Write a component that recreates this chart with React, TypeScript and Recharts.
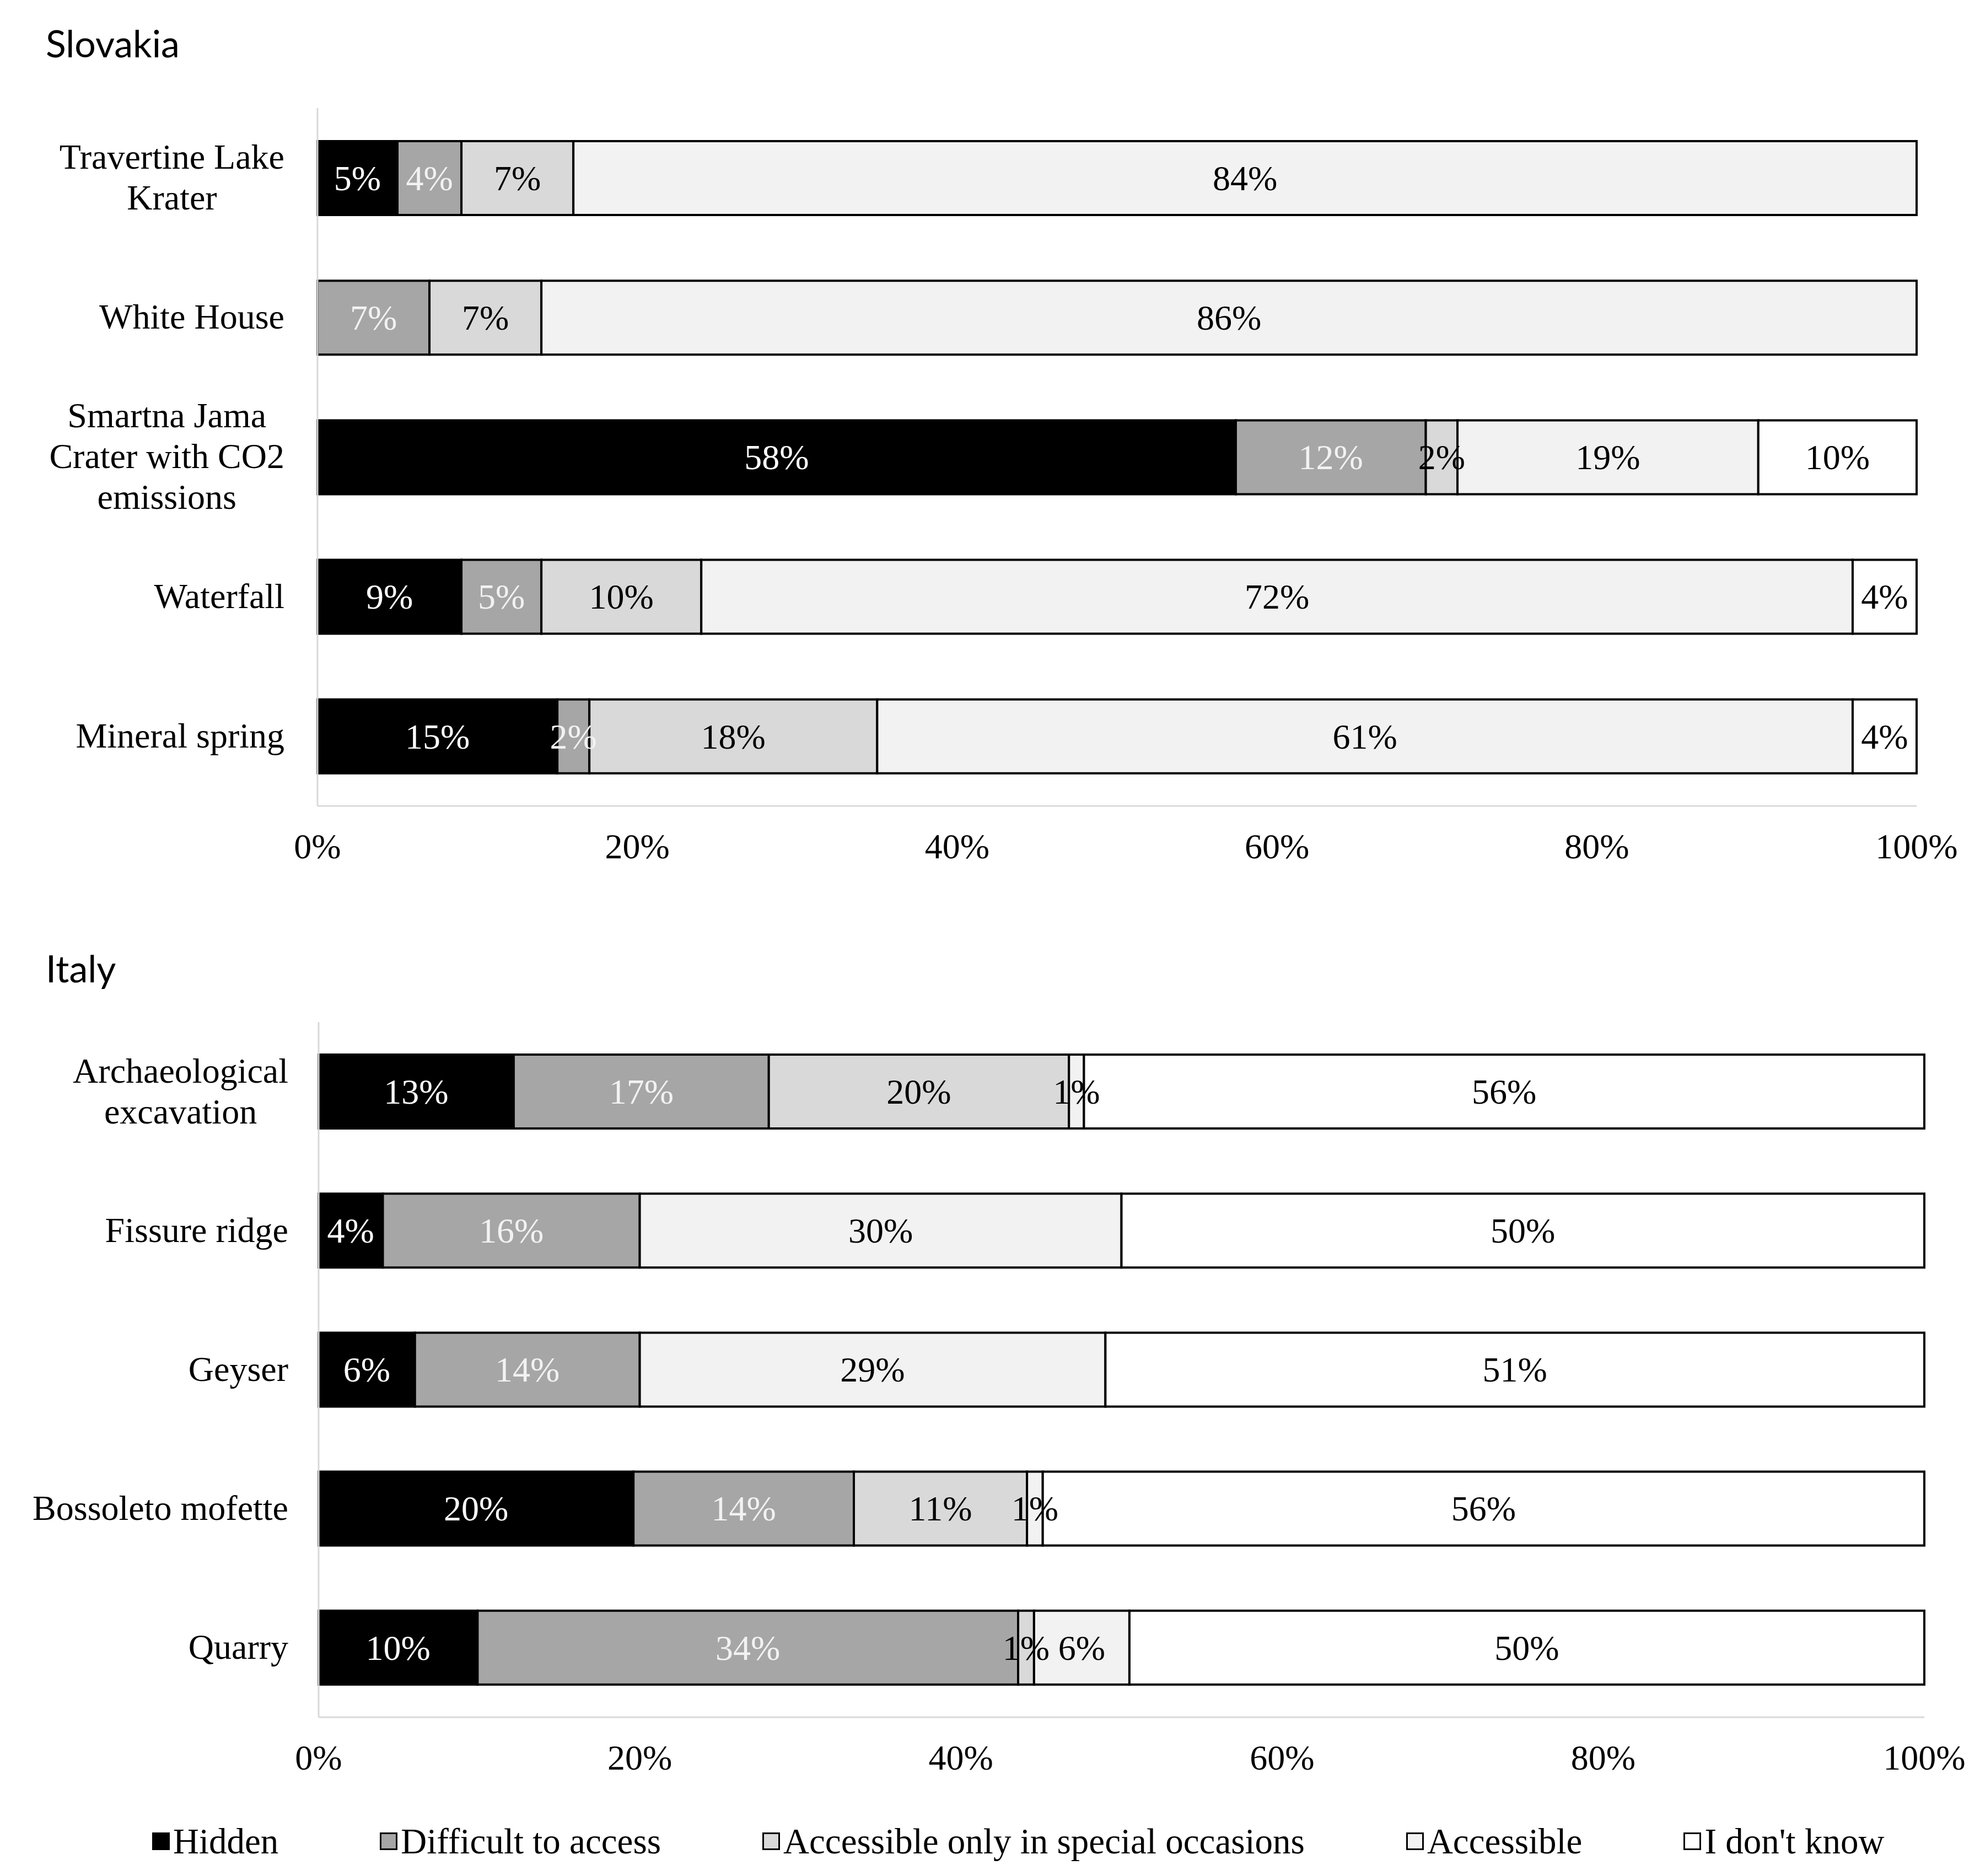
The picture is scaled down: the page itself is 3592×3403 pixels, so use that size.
import React from 'react';
import { BarChart, Bar, XAxis, YAxis, LabelList } from 'recharts';

// ---------- data ----------
const seriesNames = ['Hidden', 'Difficult to access', 'Accessible only in special occasions', 'Accessible', "I don't know"];
const seriesKeys = ['hidden', 'difficult', 'special', 'accessible', 'dontKnow'];
const seriesColors = ['#000000', '#a6a6a6', '#d9d9d9', '#f2f2f2', '#ffffff'];
const labelColors = ['#ffffff', '#f2f2f2', '#000000', '#000000', '#000000'];

const slovakiaCategories = ['Travertine Lake\nKrater', 'White House', 'Smartna Jama\nCrater with CO2\nemissions', 'Waterfall', 'Mineral spring'];
const slovakiaHidden = [5, null, 58, 9, 15];
const slovakiaDifficult = [4, 7, 12, 5, 2];
const slovakiaSpecial = [7, 7, 2, 10, 18];
const slovakiaAccessible = [84, 86, 19, 72, 61];
const slovakiaDontKnow = [null, null, 10, 4, 4];

const italyCategories = ['Archaeological\nexcavation', 'Fissure ridge', 'Geyser', 'Bossoleto mofette', 'Quarry'];
const italyHidden = [13, 4, 6, 20, 10];
const italyDifficult = [17, 16, 14, 14, 34];
const italySpecial = [20, 0, 0, 11, 1];
const italyAccessible = [1, 30, 29, 1, 6];
const italyDontKnow = [56, 50, 51, 56, 50];

const xTicks = [0, 0.2, 0.4, 0.6, 0.8, 1];

// ---------- styling ----------
const SERIF = "'Liberation Serif', 'Times New Roman', serif";
const FS = 64;

let measureCtx: any = null;
function textWidth(t: string) {
  if (!measureCtx && typeof document !== 'undefined') {
    measureCtx = document.createElement('canvas').getContext('2d');
  }
  if (!measureCtx) return t.length * FS * 0.45;
  measureCtx.font = `${FS}px 'Liberation Serif'`;
  return measureCtx.measureText(t).width;
}

const CategoryTick = (props: any) => {
  const { x, y, payload } = props;
  const lines = String(payload.value).split('\n');
  const maxW = Math.max(...lines.map((l) => textWidth(l)));
  const cx = x - maxW / 2;
  const lh = 74;
  const startY = y - ((lines.length - 1) * lh) / 2;
  return (
    <g>
      {lines.map((l, i) => (
        <text
          key={i}
          x={cx}
          y={startY + i * lh}
          dy="0.32em"
          textAnchor="middle"
          fontFamily={SERIF}
          fontSize={FS}
          fill="#000"
        >
          {l}
        </text>
      ))}
    </g>
  );
};

const makeLabel = (color: string) => (props: any) => {
  const { value } = props;
  if (value === null || value === undefined) return null;
  const vb = props.viewBox || {};
  const x = vb.x ?? props.x;
  const y = vb.y ?? props.y;
  const w = vb.width ?? props.width ?? 0;
  const h = vb.height ?? props.height ?? 0;
  return (
    <text
      x={x + w / 2}
      y={y + h / 2}
      dy="0.34em"
      textAnchor="middle"
      fontFamily={SERIF}
      fontSize={FS}
      fill={color}
    >
      {`${value}%`}
    </text>
  );
};

type PanelProps = {
  categories: string[];
  values: (number | null)[][];
  height: number;
  margin: { top: number; right: number; bottom: number; left: number };
  yWidth: number;
  xHeight: number;
  labelGap: number;
};

function Panel({ categories, values, height, margin, yWidth, xHeight, labelGap }: PanelProps) {
  const data = categories.map((c, i) => {
    const row: any = { name: c };
    seriesKeys.forEach((k, j) => {
      row[k] = values[j][i];
    });
    return row;
  });
  return (
    <BarChart
      width={3592}
      height={height}
      data={data}
      layout="vertical"
      stackOffset="expand"
      margin={margin}
      barSize={134}
    >
      <XAxis
        type="number"
        domain={[0, 1]}
        ticks={xTicks}
        interval={0}
        tickFormatter={(v: number) => `${Math.round(v * 100)}%`}
        axisLine={{ stroke: '#d9d9d9', strokeWidth: 3 }}
        tickLine={false}
        tickSize={0}
        tickMargin={50}
        height={xHeight}
        tick={{ fontFamily: SERIF, fontSize: FS, fill: '#000' }}
      />
      <YAxis
        type="category"
        dataKey="name"
        width={yWidth}
        interval={0}
        axisLine={{ stroke: '#d9d9d9', strokeWidth: 3 }}
        tickLine={false}
        tickSize={0}
        tickMargin={labelGap}
        tick={<CategoryTick />}
      />
      {seriesKeys.map((k, j) => (
        <Bar
          key={k}
          dataKey={k}
          name={seriesNames[j]}
          stackId="a"
          fill={seriesColors[j]}
          stroke="#000"
          strokeWidth={4}
          isAnimationActive={false}
        >
          <LabelList dataKey={k} content={makeLabel(labelColors[j])} />
        </Bar>
      ))}
    </BarChart>
  );
}

const headingStyle: React.CSSProperties = {
  position: 'absolute',
  left: 83,
  fontFamily: "Lato, 'Open Sans', sans-serif",
  fontSize: 68,
  lineHeight: '68px',
  color: '#000',
  margin: 0,
};

export default function App() {
  return (
    <div
      style={{
        position: 'absolute',
        left: 0,
        top: 0,
        width: 3592,
        height: 3403,
        background: '#fff',
        overflow: 'hidden',
      }}
    >
      <div style={{ ...headingStyle, top: 44 }}>Slovakia</div>
      <div style={{ position: 'absolute', left: 0, top: 0 }}>
        <Panel
          categories={slovakiaCategories}
          values={[slovakiaHidden, slovakiaDifficult, slovakiaSpecial, slovakiaAccessible, slovakiaDontKnow]}
          height={1600}
          margin={{ top: 196, right: 115, bottom: 0, left: 0 }}
          yWidth={576}
          xHeight={138}
          labelGap={60}
        />
      </div>

      <div style={{ ...headingStyle, top: 1722 }}>Italy</div>
      <div style={{ position: 'absolute', left: 0, top: 1700 }}>
        <Panel
          categories={italyCategories}
          values={[italyHidden, italyDifficult, italySpecial, italyAccessible, italyDontKnow]}
          height={1550}
          margin={{ top: 154, right: 101, bottom: 0, left: 0 }}
          yWidth={578}
          xHeight={135}
          labelGap={55}
        />
      </div>

      <div
        style={{
          position: 'absolute',
          left: 276,
          top: 3300,
          height: 80,
          display: 'flex',
          alignItems: 'center',
          gap: 184,
          fontFamily: SERIF,
          fontSize: 65,
          color: '#000',
          whiteSpace: 'nowrap',
        }}
      >
        {seriesNames.map((n, j) => (
          <div key={n} style={{ display: 'flex', alignItems: 'center' }}>
            <span
              style={{
                display: 'inline-block',
                width: 26,
                height: 26,
                background: seriesColors[j],
                border: '3px solid #000',
                marginRight: 6,
              }}
            />
            <span>{n}</span>
          </div>
        ))}
      </div>
    </div>
  );
}
